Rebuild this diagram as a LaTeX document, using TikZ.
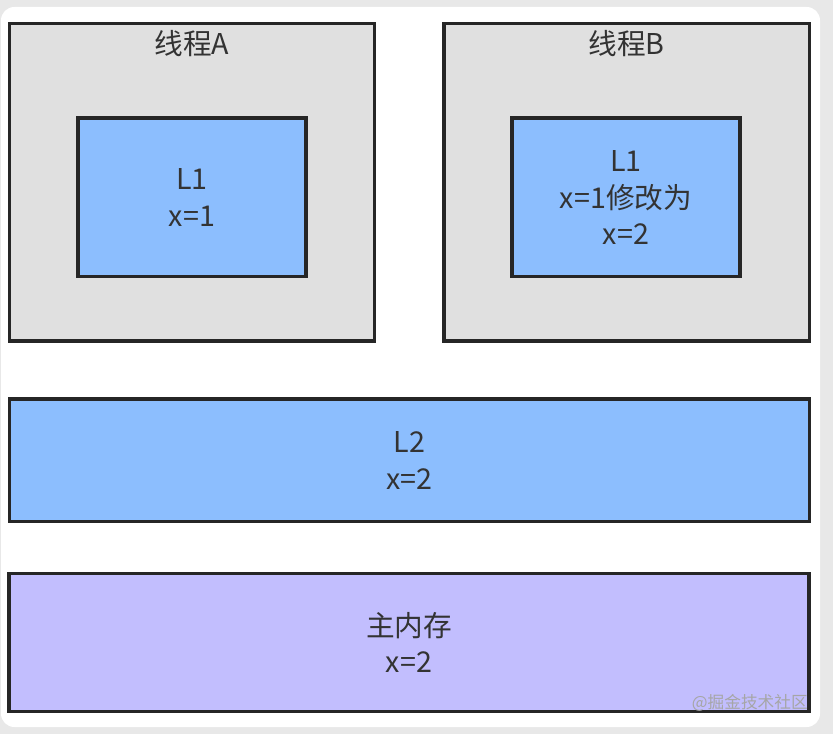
\documentclass[tikz,border=0pt]{standalone}
\usepackage{fontspec}
\setmainfont{Noto Sans CJK SC}
\usetikzlibrary{positioning}

\definecolor{pagegrey}{HTML}{E8E8E8}
\definecolor{threadgrey}{HTML}{E0E0E0}
\definecolor{cacheblue}{HTML}{8CBEFE}
\definecolor{mempurple}{HTML}{C2BEFE}
\definecolor{inkgrey}{HTML}{262626}
\definecolor{textgrey}{HTML}{333333}

\tikzset{
  box/.style={draw=inkgrey, line width=2.5pt, inner sep=0pt, align=center,
    text=textgrey, font=\fontsize{21.5}{27.5}\selectfont},
  threadbox/.style={box, fill=threadgrey, minimum width=274pt, minimum height=238pt},
  cachebox/.style={box, fill=cacheblue, minimum width=171pt, minimum height=119pt},
  wide/.style={box, minimum width=600pt},
  caption/.style={text=textgrey, font=\fontsize{21.5}{27.5}\selectfont, inner sep=0pt}
}

\begin{document}
\begin{tikzpicture}[x=0.75pt, y=-0.75pt]
        % page and card
        \fill[pagegrey] (0,0) rectangle (833,734);
        \fill[white, rounded corners=10pt] (1,7) rectangle (820,727);
        \path[use as bounding box] (0,0) rectangle (833,734);

        % threads
        \node [threadbox] (threadA) at (192, 182.5) {};
        \node [threadbox] (threadB) at (626.5, 182.5) {};
        \node [caption, below=6pt of threadA.north] (labelA) {线程A};
        \node [caption, below=6pt of threadB.north] (labelB) {线程B};

        % L1 caches
        \node [cachebox] (loneA) at (192, 197.5) {L1\\x=1};
        \node [cachebox] (loneB) at (626, 197.5) {L1\\x=1修改为\\x=2};

        % L2 and main memory
        \node [wide, fill=cacheblue, minimum height=92pt] (ltwo) at (409.5, 460.5) {L2\\x=2};
        \node [wide, fill=mempurple, minimum height=103pt] (mainmem) at (409, 642.5) {主内存\\x=2};

        \node [anchor=south east, inner sep=0pt, text=gray!70, font=\fontsize{12.5}{13}\selectfont]
          (mark) at (808, 712) {@掘金技术社区};
      \end{tikzpicture}
\end{document}
